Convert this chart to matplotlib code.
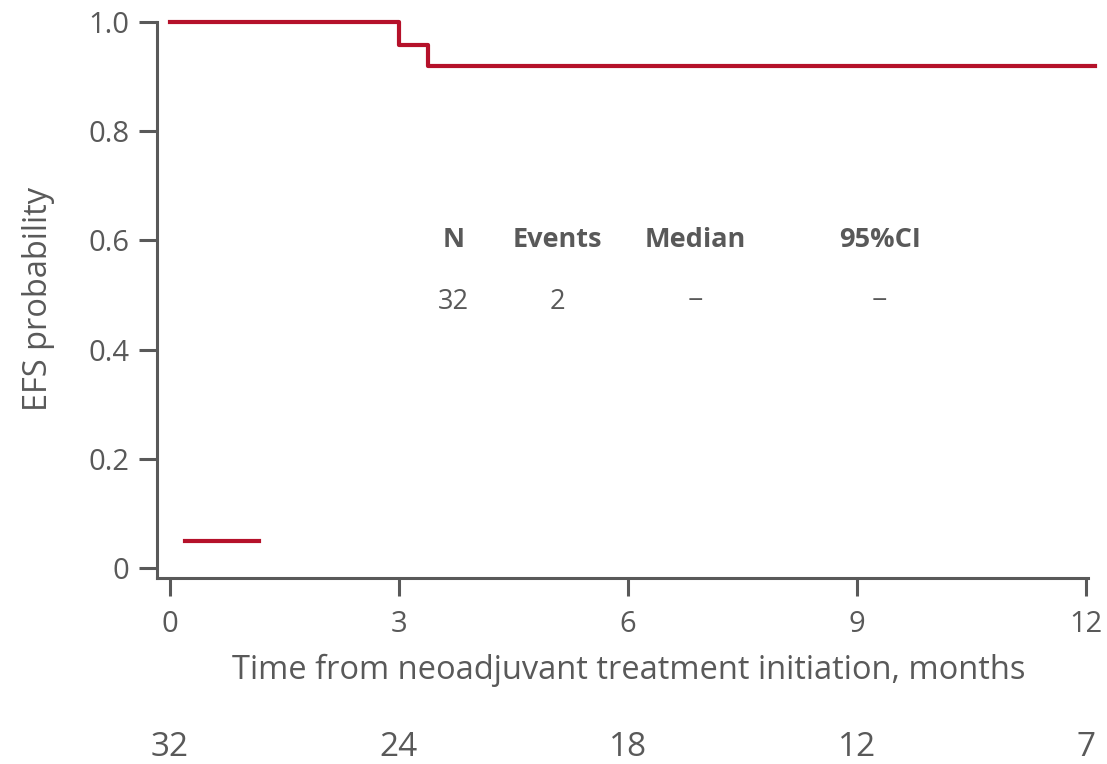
import numpy as np
from matplotlib import pyplot as plt
from matplotlib.transforms import blended_transform_factory

# KM curve steps (months, survival probability)
km_time = [0.0, 3.0, 3.38, 12.12]
km_surv = [1.0, 0.958, 0.919, 0.919]

xticks = [0, 3, 6, 9, 12]
yticks = [0, 0.2, 0.4, 0.6, 0.8, 1.0]
ytick_labels = ['0', '0.2', '0.4', '0.6', '0.8', '1.0']
at_risk = [32, 24, 18, 12, 7]

table_header = ['N', 'Events', 'Median', '95%CI']
table_values = ['32', '2', '\u2212', '\u2212']
table_x = [3.72, 5.08, 6.89, 9.3]

red = '#B5112A'
gray = '#595959'

plt.rcParams['font.family'] = ['Open Sans', 'DejaVu Sans']

fig = plt.figure(figsize=(11.07, 7.64), dpi=100)
ax = fig.add_axes([0.1418, 0.2435, 0.852, 0.7303])

ax.step(km_time, km_surv, where='post', color=red, linewidth=3, clip_on=False)
# legend line
ax.plot([0.2, 1.17], [0.049, 0.049], color=red, linewidth=3)

ax.set_xlim(-0.17, 12.19)
ax.set_ylim(-0.0183, 1.0037)

for s in ['top', 'right']:
    ax.spines[s].set_visible(False)
for s in ['left', 'bottom']:
    ax.spines[s].set_color(gray)
    ax.spines[s].set_linewidth(2.2)
ax.spines['left'].set_bounds(-0.0183, 1.0)
ax.spines['bottom'].set_bounds(-0.17, 12.03)

ax.set_xticks(xticks)
ax.set_yticks(yticks)
ax.set_yticklabels(ytick_labels)
ax.tick_params(axis='both', colors=gray, labelcolor=gray, labelsize=21,
               width=2.2, length=13)
ax.tick_params(axis='x', pad=10)
ax.tick_params(axis='y', pad=7)

ax.set_xlabel('Time from neoadjuvant treatment initiation, months',
              fontsize=23.5, color=gray, labelpad=11)
ax.set_ylabel('EFS probability', fontsize=23.5, color=gray, labelpad=24)

for x, h, v in zip(table_x, table_header, table_values):
    ax.text(x, 0.6, h, ha='center', va='center', fontsize=19.5,
            fontweight='bold', color=gray)
    ax.text(x, 0.487, v, ha='center', va='center', fontsize=19.5, color=gray)

trans = blended_transform_factory(ax.transData, fig.transFigure)
for x, n in zip(xticks, at_risk):
    ax.text(x, 0.022, str(n), ha='center', va='center', fontsize=24,
            color=gray, transform=trans, clip_on=False,
            family=['Liberation Sans Narrow', 'Open Sans'])

plt.savefig('out.png', dpi=100)
